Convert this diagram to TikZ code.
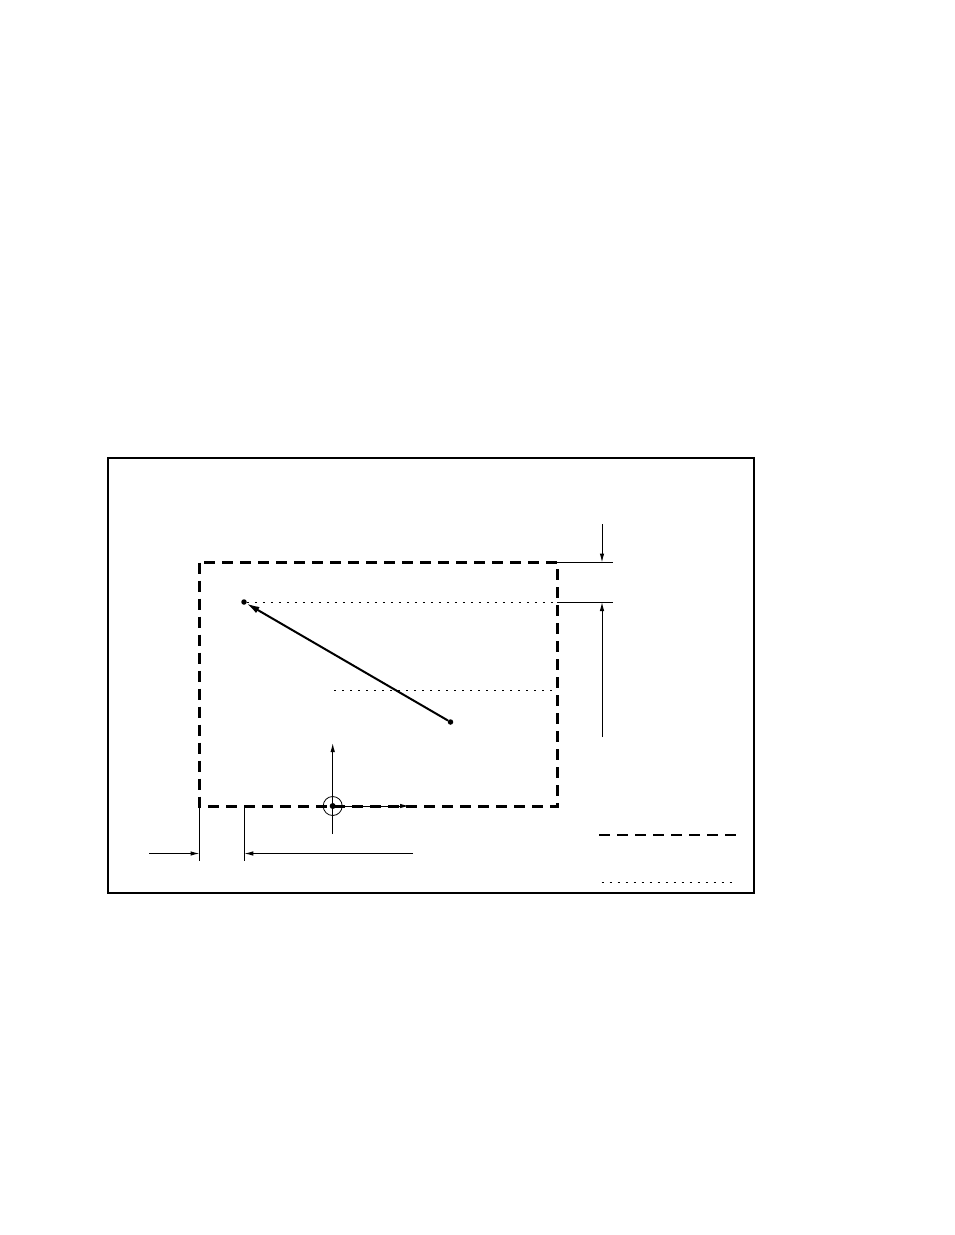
\documentclass[tikz,border=0pt]{standalone}
\usetikzlibrary{arrows.meta}
\begin{document}
\begin{tikzpicture}[x=1pt,y=-1pt,
  frame/.style={line width=1.2pt},
  bigdash/.style={line width=3pt,dash pattern=on 11pt off 7pt},
  finedot/.style={line width=0.8pt,dash pattern=on 2pt off 6pt},
  thin/.style={line width=1pt},
  dimarrow/.style={line width=1pt,-{Latex[length=9pt,width=4.5pt]}},
  vecarrow/.style={line width=2pt,-{Latex[length=13pt,width=7pt]}},
  pt/.style={circle,fill,inner sep=0pt,minimum size=5.5pt}]
\useasboundingbox (0,0) rectangle (954,1235);
\fill[white] (0,0) rectangle (954,1235);
% outer frame
\draw[frame] (108,458) rectangle (754,893);
% dashed rectangle
\coordinate (TL) at (199.5,562.5);
\coordinate (BR) at (557.5,806);
\draw[bigdash] (TL) rectangle (BR);
% points
\node[pt] (P1) at (244,602) {};
\node[pt] (P2) at (450.5,722) {};
\draw[vecarrow] (P2) -- (P1);
% dotted guide lines
\coordinate (D1e) at (557,602);
\draw[finedot] (P1) -- (D1e);
\coordinate (D2s) at (334,690);
\coordinate (D2e) at (557,690);
\draw[finedot] (D2s) -- (D2e);
% right dimension
\coordinate (R1s) at (557,562.5);
\coordinate (R1e) at (613,562.5);
\coordinate (R2s) at (557,602);
\coordinate (R2e) at (613,602);
\draw[thin] (R1s) -- (R1e);
\draw[thin] (R2s) -- (R2e);
\coordinate (A1s) at (602,524);
\coordinate (A1e) at (602,562.5);
\coordinate (A2s) at (602,737);
\coordinate (A2e) at (602,602);
\draw[dimarrow] (A1s) -- (A1e);
\draw[dimarrow] (A2s) -- (A2e);
% bottom dimension
\coordinate (E1s) at (199.5,806);
\coordinate (E1e) at (199.5,861);
\coordinate (E2s) at (244.3,806);
\coordinate (E2e) at (244.3,861);
\draw[thin] (E1s) -- (E1e);
\draw[thin] (E2s) -- (E2e);
\coordinate (B1s) at (149,853.5);
\coordinate (B1e) at (199.5,853.5);
\coordinate (B2s) at (413,853.5);
\coordinate (B2e) at (244.3,853.5);
\draw[dimarrow] (B1s) -- (B1e);
\draw[dimarrow] (B2s) -- (B2e);
% axes origin
\node[circle,draw,line width=0.8pt,minimum size=19pt,inner sep=0pt] (O) at (332.7,806) {};
\node[pt,minimum size=6pt] (Oc) at (332.7,806) {};
\coordinate (Ydown) at (332.7,834);
\coordinate (Yup) at (332.7,743);
\coordinate (Xend) at (409,806);
\draw[dimarrow] (Ydown) -- (Yup);
\draw[dimarrow] (Oc.center) -- (Xend);
% legend
\coordinate (L1s) at (599,835);
\coordinate (L1e) at (740,835);
\draw[line width=2.6pt,dash pattern=on 11pt off 7pt] (L1s) -- (L1e);
\coordinate (L2s) at (601.5,882);
\coordinate (L2e) at (736,882);
\draw[finedot] (L2s) -- (L2e);
\end{tikzpicture}
\end{document}
